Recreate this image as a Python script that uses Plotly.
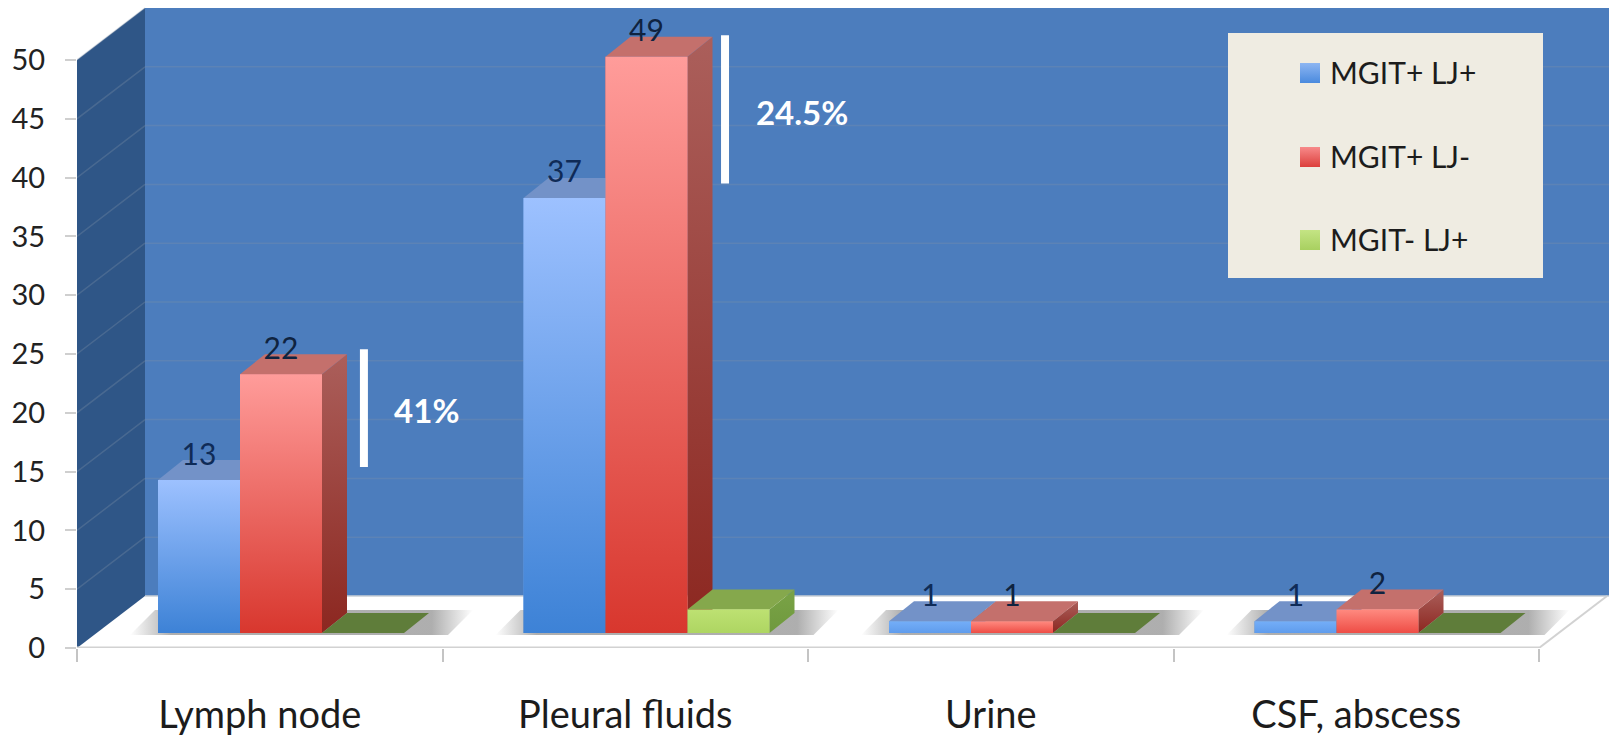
import plotly.graph_objects as go

# ---------- data ----------
categories = ["Lymph node", "Pleural fluids", "Urine", "CSF, abscess"]
mgit_pos_lj_pos = [13, 37, 1, 1]
mgit_pos_lj_neg = [22, 49, 1, 2]
mgit_neg_lj_pos = [0, 2, 0, 0]
y_ticks = [0, 5, 10, 15, 20, 25, 30, 35, 40, 45, 50]
bracket_labels = ["41%", "24.5%"]
bracket_x = [0.785, 1.773]
bracket_low = [15.4, 39.5]
bracket_high = [25.4, 52.1]
bracket_label_x = [0.957, 1.984]
bracket_label_y = [19.85, 45.15]

# ---------- geometry (image pixels -> axis units) ----------
W, H = 1609, 735
X0, Y0 = 77, 648
PX_CAT = 365.5
PX_UNIT = 11.76
def ux(px): return px / PX_CAT
def uy(px): return px / PX_UNIT
def dx_of(xp): return (xp - X0) / PX_CAT
def dy_of(yp): return (Y0 - yp) / PX_UNIT

X_MAX = (W - X0) / PX_CAT
Y_MAX = Y0 / PX_UNIT
WALL_DX, WALL_DY = ux(68), uy(52)
WALL_TOP = dy_of(8)
BASE = uy(15)
BAR_W = ux(82)
GROUP_OFF = ux(81)
DEPTH_X, DEPTH_Y = ux(25), uy(20)

# colour pairs are [bottom, top]
series = [
    dict(name="MGIT+ LJ+", values=mgit_pos_lj_pos, solid="#6a9fe6",
         grad=["#3d82d6", "#9dc1ff"], short=["#5f9cec", "#74aef8"],
         top="#7392c8", side=["#2f5f9e", "#4f78b4"], label="#0f2b57"),
    dict(name="MGIT+ LJ-", values=mgit_pos_lj_neg, solid="#ec6a64",
         grad=["#d8372e", "#ff9c9a"], short=["#ee4d45", "#ff8a80"],
         top="#c4706c", side=["#8c2720", "#ab5f5b"], label="#0f2340"),
    dict(name="MGIT- LJ+", values=mgit_neg_lj_pos, solid="#b9de6c",
         grad=["#aed562", "#bde172"], short=["#aed562", "#bde172"],
         top="#85a84c", side=["#6f993e", "#7aa346"], label="#223"),
]
FLAT_GREEN = "#5f7d3a"

fig = go.Figure()

# ---------- walls, as shapes under the plot ----------
shapes = []
def poly_path(pts):
    return "M " + " L ".join(f"{x},{y}" for x, y in pts) + " Z"

shapes.append(dict(type="path", layer="below", line_width=0, fillcolor="#2f5687",
                   path=poly_path([(0, 0), (0, 50), (WALL_DX, 50 + WALL_DY), (WALL_DX, WALL_DY)])))
shapes.append(dict(type="rect", layer="below", line_width=0, fillcolor="#4c7dbd",
                   x0=WALL_DX, x1=X_MAX, y0=WALL_DY, y1=WALL_TOP))
GRID = "rgba(128,146,168,0.32)"
for t in y_ticks[1:]:
    shapes.append(dict(type="line", layer="below", line=dict(color=GRID, width=1.5),
                       x0=0, y0=t, x1=WALL_DX, y1=t + WALL_DY))
    if t < 50:
        shapes.append(dict(type="line", layer="below", line=dict(color=GRID, width=1.5),
                           x0=WALL_DX, y0=t + WALL_DY, x1=X_MAX, y1=t + WALL_DY))
# floor edges
FLOOR = "#d2d2d2"
shapes.append(dict(type="line", layer="below", line=dict(color=FLOOR, width=3),
                   x0=0, y0=0, x1=4, y1=0))
shapes.append(dict(type="line", layer="below", line=dict(color=FLOOR, width=2),
                   x0=4, y0=0, x1=4 + WALL_DX, y1=WALL_DY))
shapes.append(dict(type="line", layer="below", line=dict(color="#c9cfd6", width=1.5),
                   x0=WALL_DX, y0=WALL_DY, x1=X_MAX, y1=WALL_DY))

# ---------- front faces as real bars ----------
def bar_x(i, s):
    return i + GROUP_OFF + s * BAR_W

for s, ser in enumerate(series):
    fig.add_trace(go.Bar(
        x=[bar_x(i, s) for i in range(len(categories))],
        y=ser["values"], base=[BASE] * len(categories), width=BAR_W,
        offset=0, name=ser["name"], showlegend=False,
        marker=dict(color=ser["solid"], line_width=0), hoverinfo="skip"))

def poly(xs, ys, color=None, grad=None, gtype="vertical"):
    kw = dict(x=xs + xs[:1], y=ys + ys[:1], mode="lines", fill="toself",
              line=dict(width=0), showlegend=False, hoverinfo="skip")
    if grad is not None:
        kw["fillgradient"] = dict(type=gtype, colorscale=grad)
        kw["fillcolor"] = "rgba(0,0,0,0)"
    else:
        kw["fillcolor"] = color
    fig.add_trace(go.Scatter(**kw))

# ---------- soft shadows on the floor ----------
T = "rgba(125,125,125,0)"
G = "rgba(125,125,125,0.62)"
for i in range(len(categories)):
    left = i + GROUP_OFF - ux(28)
    right = i + GROUP_OFF + 3 * BAR_W + DEPTH_X + ux(44)
    poly([left, right - ux(25), right, left + ux(25)],
         [BASE - uy(2), BASE - uy(2), BASE + DEPTH_Y + uy(3), BASE + DEPTH_Y + uy(3)],
         grad=[[0, T], [0.12, G], [0.88, G], [1, T]], gtype="horizontal")

# ---------- 3-D faces ----------
for i in range(len(categories)):
    for s, ser in enumerate(series):
        v = ser["values"][i]
        x0 = bar_x(i, s)
        x1 = x0 + BAR_W
        top = BASE + v
        if v == 0:
            poly([x0, x1, x1 + DEPTH_X, x0 + DEPTH_X],
                 [BASE, BASE, BASE + DEPTH_Y, BASE + DEPTH_Y], color=FLAT_GREEN)
            continue
        # right side
        poly([x1, x1 + DEPTH_X, x1 + DEPTH_X, x1],
             [BASE, BASE + DEPTH_Y, top + DEPTH_Y, top],
             grad=[[0, ser["side"][0]], [1, ser["side"][1]]])
        # top
        poly([x0, x1, x1 + DEPTH_X, x0 + DEPTH_X],
             [top, top, top + DEPTH_Y, top + DEPTH_Y], color=ser["top"])
        # front gradient
        c = ser["grad"] if v >= 5 else ser["short"]
        poly([x0, x1, x1, x0], [BASE, BASE, top, top],
             grad=[[0, c[0]], [1, c[1]]])

# ---------- value labels ----------
LABEL_LIFT = uy(23)
for s, ser in enumerate(series[:2]):
    fig.add_trace(go.Scatter(
        x=[bar_x(i, s) + BAR_W / 2 for i in range(len(categories))],
        y=[BASE + v + LABEL_LIFT for v in ser["values"]],
        mode="text", text=[str(v) for v in ser["values"]],
        textposition="middle center",
        textfont=dict(family="Lato", size=30, color=ser["label"]),
        showlegend=False, hoverinfo="skip"))

# ---------- white brackets ----------
for x, lo, hi in zip(bracket_x, bracket_low, bracket_high):
    fig.add_trace(go.Scatter(x=[x, x], y=[lo, hi], mode="lines",
                             line=dict(color="white", width=8),
                             showlegend=False, hoverinfo="skip"))
fig.add_trace(go.Scatter(x=bracket_label_x, y=bracket_label_y, mode="text",
                         text=[f"<b>{t}</b>" for t in bracket_labels],
                         textposition="middle center",
                         textfont=dict(family="Lato", size=33, color="white"),
                         showlegend=False, hoverinfo="skip"))

# ---------- legend panel ----------
LEG = dict(x0=1228, x1=1543, y0=33, y1=278)
poly([dx_of(LEG["x0"]), dx_of(LEG["x1"]), dx_of(LEG["x1"]), dx_of(LEG["x0"])],
     [dy_of(LEG["y0"]), dy_of(LEG["y0"]), dy_of(LEG["y1"]), dy_of(LEG["y1"])],
     color="#efece2")
leg_y = [73, 157, 240]
leg_c = [["#4a8ade", "#8db6f2"], ["#dc3f3c", "#f78a8a"], ["#a8d060", "#c4e484"]]
annotations = []
for ser, yp, c in zip(series, leg_y, leg_c):
    poly([dx_of(1300), dx_of(1320), dx_of(1320), dx_of(1300)],
         [dy_of(yp - 10), dy_of(yp - 10), dy_of(yp + 10), dy_of(yp + 10)],
         grad=[[0, c[0]], [1, c[1]]])
    annotations.append(dict(x=dx_of(1328), y=dy_of(yp - 1), text=ser["name"], showarrow=False,
                            xanchor="left", yanchor="middle",
                            font=dict(family="Lato", size=30, color="#1c1c1c")))

fig.update_layout(
    width=W, height=H, autosize=False,
    margin=dict(l=X0, r=0, t=0, b=H - Y0, pad=0),
    paper_bgcolor="white", plot_bgcolor="white",
    barmode="overlay", shapes=shapes, annotations=annotations,
    hovermode=False,
    xaxis=dict(range=[0, X_MAX], tickmode="array", automargin=False,
               tickvals=[i + 0.5 for i in range(len(categories))], ticktext=categories,
               ticks="", showgrid=False, zeroline=False, showline=False,
               ticklabelstandoff=41,
               tickfont=dict(family="Lato", size=38, color="#1c1c1c"),
               minor=dict(tickmode="array", tickvals=[0, 1, 2, 3, 4], ticks="outside",
                          ticklen=13, tickcolor="#c4c4c4", tickwidth=2, showgrid=False)),
    yaxis=dict(range=[0, Y_MAX], tickmode="array", tickvals=y_ticks, automargin=False,
               ticks="outside", ticklen=11, tickcolor="#cfcfcf", tickwidth=2,
               showgrid=False, zeroline=False, showline=False,
               ticklabelstandoff=14,
               tickfont=dict(family="Lato", size=29, color="#222222")),
)

fig.write_html("out.html", config=dict(displayModeBar=False, responsive=False),
               post_script="document.body.style.margin='0';document.body.style.overflow='hidden';")
